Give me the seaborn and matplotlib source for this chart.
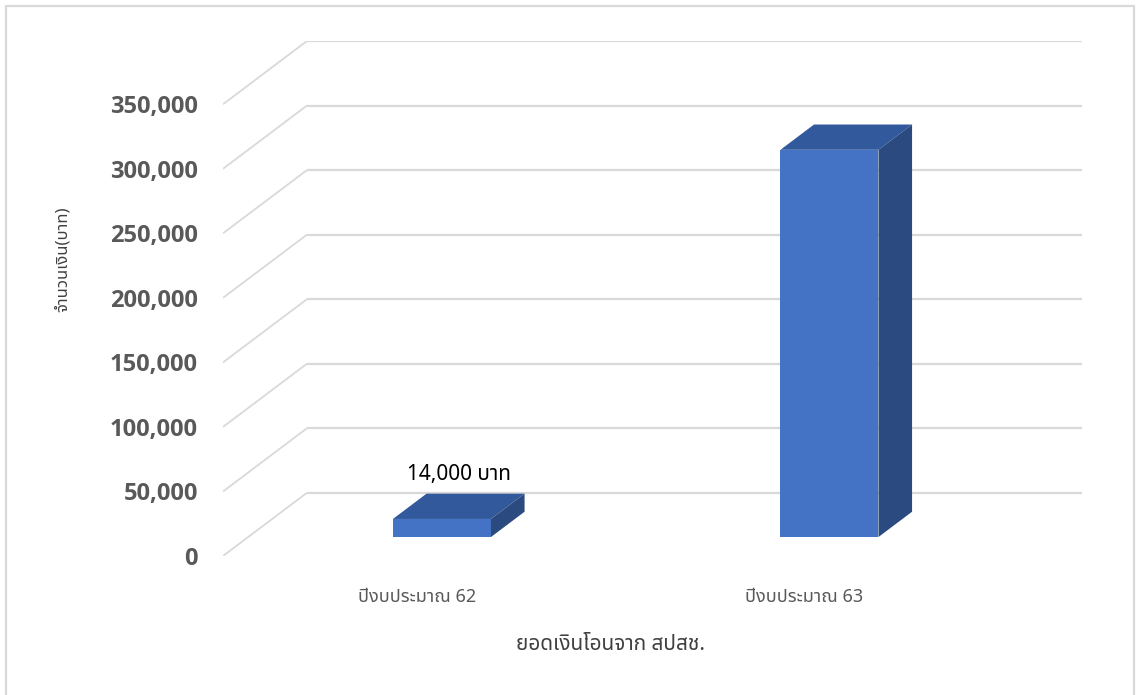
import matplotlib
matplotlib.use("Agg")
import numpy as np
import pandas as pd
import matplotlib.pyplot as plt
import matplotlib.transforms as mtransforms
from matplotlib import font_manager
from matplotlib.ft2font import FT2Font
from matplotlib.patches import Polygon
from matplotlib.lines import Line2D
import seaborn as sns

# ---- data -------------------------------------------------------------
categories = ["ปีงบประมาณ 62", "ปีงบประมาณ 63"]
amounts = [14000, 300000]
value_ticks = [0, 50000, 100000, 150000, 200000, 250000, 300000, 350000]
bar_note = "14,000 บาท"
y_title = "จำนวนเงิน(บาท)"
x_title = "ยอดเงินโอนจาก สปสช."


def find_thai_family():
    """Return the name of an installed family that covers Thai script."""
    found = []
    for entry in font_manager.fontManager.ttflist:
        try:
            cmap = FT2Font(entry.fname).get_charmap()
        except Exception:
            continue
        if 0x0E01 in cmap and 0x0E34 in cmap:
            found.append(entry.name)
    for pref in ["Leelawadee UI", "Noto Sans Thai", "Noto Sans Thai UI", "Tahoma",
                 "Loma", "Garuda", "Norasi", "Sarabun", "Noto Serif Thai"]:
        if pref in found:
            return pref
    return found[0] if found else None


sns.set_theme(style="white")
thai = find_thai_family()
families = ["Noto Sans"] + ([thai] if thai else []) + ["DejaVu Sans"]
plt.rcParams["font.family"] = families
bold_families = ["Open Sans", "Lato", "DejaVu Sans"]

W, H = 1137, 695
fig = plt.figure(figsize=(W / 100, H / 100), dpi=100)
fig.patch.set_facecolor("white")

# plot area: front floor corner to the far top-right of the back wall
ax = fig.add_axes([223 / W, (H - 556) / H, (1082 - 223) / W, (556 - 41) / H])
ax.set_facecolor("none")

# oblique depth offsets (category units, value units)
DX = 84 / 387.5
DY = 49000
BAR_FRONT = 0.3   # bars start 30% into the depth
BAR_DEPTH = 0.4   # and are 40% of the depth deep

front_col = "#4472C4"
top_col = "#32599B"
side_col = "#2B4A80"
grid_col = "#D9D9D9"

df = pd.DataFrame({"category": categories, "amount": amounts})
sns.barplot(data=df, x="category", y="amount", color=front_col, saturation=1,
            width=0.253, errorbar=None, ax=ax, zorder=3)

# push the front faces back into the scene and add top/side faces
bdx, bdy = BAR_DEPTH * DX, BAR_DEPTH * DY
for p in list(ax.patches):
    p.set_x(p.get_x() + BAR_FRONT * DX)
    p.set_y(BAR_FRONT * DY)
    p.set_edgecolor("none")
    x0 = p.get_x()
    x1 = x0 + p.get_width()
    b = p.get_y()
    t = b + p.get_height()
    ax.add_patch(Polygon([(x0, t), (x1, t), (x1 + bdx, t + bdy), (x0 + bdx, t + bdy)],
                         closed=True, facecolor=top_col, edgecolor="none", zorder=3))
    ax.add_patch(Polygon([(x1, b), (x1 + bdx, b + bdy), (x1 + bdx, t + bdy), (x1, t)],
                         closed=True, facecolor=side_col, edgecolor="none", zorder=3))

# side-wall diagonals and back-wall gridlines
x_left = -0.5
x_right = len(categories) - 0.5
for v in value_ticks:
    ax.plot([x_left, x_left + DX], [v, v + DY], color=grid_col, lw=1.3,
            zorder=1, solid_capstyle="butt")
    ax.plot([x_left + DX, x_right + DX], [v + DY, v + DY], color=grid_col, lw=1.6,
            zorder=1, solid_capstyle="butt")

ax.set_xlim(x_left, x_right + DX)
ax.set_ylim(0, value_ticks[-1] + DY)

for s in ax.spines.values():
    s.set_visible(False)

ax.set_yticks(value_ticks)
ax.set_yticklabels([f"{v:,}" for v in value_ticks], fontsize=17,
                   fontweight="bold", family=bold_families, color="#595959")
ax.tick_params(axis="y", length=0, pad=18)

ax.set_xticks(range(len(categories)))
ax.set_xticklabels(categories, fontsize=13, color="#595959")
ax.tick_params(axis="x", length=0, pad=23)
ax.set_xlabel("")
ax.set_ylabel("")

# value note over the first bar
ax.annotate(bar_note, xy=(0 + 0.5 * DX, amounts[0] + 0.5 * DY),
            xytext=(0, 23), textcoords="offset points",
            ha="center", va="center", fontsize=15, color="black")

# axis titles
mid_tr = mtransforms.blended_transform_factory(ax.transData, fig.transFigure)
ax.text(0.5 * (len(categories) - 1), (H - 645) / H, x_title, transform=mid_tr,
        fontsize=15, color="#404040", ha="center", va="center")
fig.text(63 / W, (H - 259) / H, y_title, rotation=90, fontsize=12,
         color="#404040", ha="center", va="center")

# chart-area frame
fig.add_artist(Line2D([6 / W, 6 / W, 1134 / W, 1134 / W],
                      [0, (H - 6) / H, (H - 6) / H, 0],
                      transform=fig.transFigure, color=grid_col, lw=1.6))

fig.savefig("out.png", dpi=100, facecolor="white")
